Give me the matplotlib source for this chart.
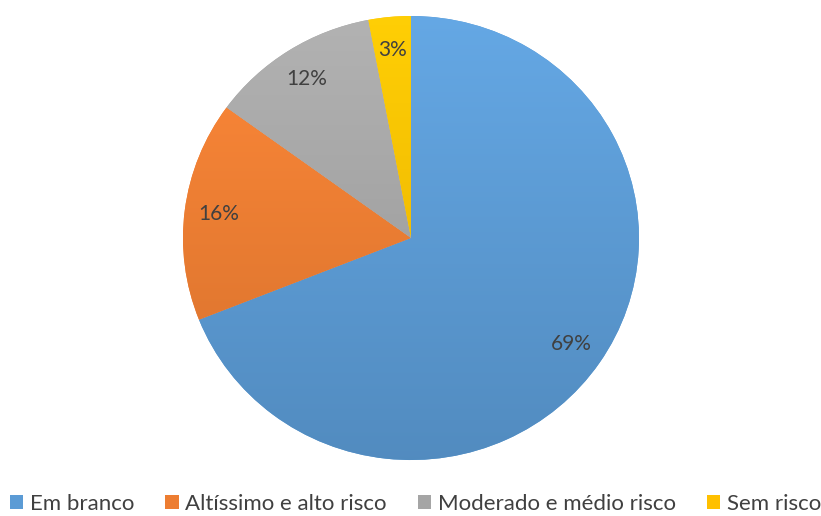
import numpy as np
import matplotlib
matplotlib.use("Agg")
from matplotlib import pyplot as plt
from matplotlib.patches import Patch
import matplotlib.colors as mcolors

# data
categories = ["Em branco", "Altíssimo e alto risco", "Moderado e médio risco", "Sem risco"]
values = [69, 16, 12, 3]
colors = ["#5B9BD5", "#ED7D31", "#A5A5A5", "#FFC000"]

plt.rcParams['font.family'] = ['Lato', 'DejaVu Sans']

fig = plt.figure(figsize=(8.21, 5.16), dpi=100)
ax = fig.add_axes([0.2229, 0.1085, 0.5554, 0.8605])

wedges, texts = ax.pie(values, colors=colors, startangle=90, counterclock=False,
                       radius=1, labels=[f"{v}%" for v in values], labeldistance=0.85,
                       textprops=dict(color="#404040", fontsize=15, ha="center", va="center"),
                       wedgeprops=dict(linewidth=0))
ax.set_aspect('auto')

# soft vertical gradient on each slice (lighter on top, darker at bottom)
yy = np.linspace(1, 0, 256)[:, None] * np.ones((1, 2))
for w, c in zip(wedges, colors):
    base = np.array(mcolors.to_rgb(c))
    light = np.clip(base * 1.05 + 0.02, 0, 1)
    dark = base * 0.9
    cmap = mcolors.LinearSegmentedColormap.from_list("g", [dark, light])
    im = ax.imshow(yy, cmap=cmap, extent=(-1, 1, -1, 1), aspect='auto', zorder=1.5,
                   interpolation='bilinear')
    im.set_clip_path(w)
ax.set_xlim(-1, 1)
ax.set_ylim(-1, 1)
for t in texts:
    t.set_zorder(3)

handles = [Patch(facecolor=c, edgecolor='none') for c in colors]
fig.legend(handles, categories, loc='lower center', bbox_to_anchor=(0.506, -0.035), ncol=4,
           frameon=False, fontsize=16, labelcolor="#404040", handlelength=0.6,
           handleheight=0.6, handletextpad=0.3, columnspacing=1.4)

fig.savefig("out.png", dpi=100)
